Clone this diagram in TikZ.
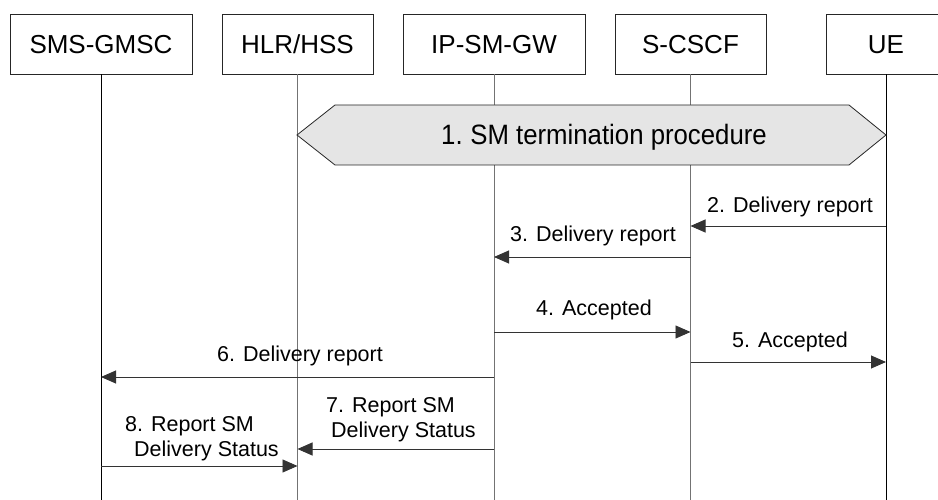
\documentclass[tikz,border=0pt]{standalone}
\usepackage{fontspec}
\setmainfont{Liberation Sans}
\usetikzlibrary{arrows.meta}

\tikzset{
  entity/.style={draw=black!85, line width=0.8pt, minimum height=60pt, inner sep=0pt,
    text height=18.6pt, text depth=0pt, font=\fontsize{26}{30}\selectfont},
  life/.style={line width=0.8pt},
  msg/.style={line width=0.9pt, draw=black!80, -{Triangle[length=15pt,width=13pt]}},
  lbl/.style={font=\fontsize{21.5}{24.5}\selectfont, inner sep=0pt},
}

\begin{document}
\begin{tikzpicture}[x=1pt,y=-1pt]
\useasboundingbox (0,0) rectangle (938,500);

% Entities
\node[entity, minimum width=182pt] (gmsc)   at (101,44)   {SMS-GMSC};
\node[entity, minimum width=151pt] (hlr)    at (297.5,44) {HLR/HSS};
\node[entity, minimum width=182pt] (ipsmgw) at (494,44)   {IP-SM-GW};
\node[entity, minimum width=151pt] (scscf)  at (690.5,44) {S-CSCF};
\node[entity, minimum width=120pt] (ue)     at (886,44)   {UE};

% Lifelines
\coordinate (bottom) at (0,500);
\draw[life] (gmsc.south) -- (gmsc.south |- bottom);
\draw[life, black!55] (hlr.south) -- (hlr.south |- bottom);
\draw[life, black!55] (ipsmgw.south) -- (ipsmgw.south |- bottom);
\draw[life, black!55] (scscf.south) -- (scscf.south |- bottom);
\draw[life] (ue.south) -- (ue.south |- bottom);

% 1. procedure
\draw[black!85, line width=0.8pt, fill=black!10]
  (297,135) -- (335,105) -- (849,105) -- (886,135) -- (849,165) -- (335,165) -- cycle;
\node[inner sep=0pt, anchor=base, font=\fontsize{28}{32}\selectfont] (proc) at (604,145)
  {\scalebox{0.92}[1]{1.\hspace{-2pt} SM termination procedure}};

% Messages
\coordinate (m2) at (0,226);
\coordinate (m3) at (0,257);
\coordinate (m4) at (0,332);
\coordinate (m5) at (0,362);
\coordinate (m6) at (0,377);
\coordinate (m7) at (0,449);
\coordinate (m8) at (0,466);

\draw[msg] (ue |- m2) -- (scscf |- m2);
\node[lbl, anchor=base] (l2) at (790,212) {2. Delivery report};

\draw[msg] (scscf |- m3) -- (ipsmgw |- m3);
\node[lbl, anchor=base] (l3) at (593,241) {3. Delivery report};

\draw[msg] (ipsmgw |- m4) -- (scscf |- m4);
\node[lbl, anchor=base] (l4) at (594,315) {4. Accepted};

\draw[msg] (scscf |- m5) -- (ue |- m5);
\node[lbl, anchor=base] (l5) at (790,347) {5. Accepted};

\draw[msg] (ipsmgw |- m6) -- (gmsc |- m6);
\node[lbl, anchor=base] (l6) at (300,361) {6. Delivery report};

\draw[msg] (ipsmgw |- m7) -- (hlr |- m7);
\node[lbl, anchor=base west, align=left] (l7) at (326,437) {7. Report SM\\\hspace*{5pt}Delivery Status};

\draw[msg] (gmsc |- m8) -- (hlr |- m8);
\node[lbl, anchor=base west, align=left] (l8) at (125,456) {8. Report SM\\\hspace*{9pt}Delivery Status};

\end{tikzpicture}
\end{document}
